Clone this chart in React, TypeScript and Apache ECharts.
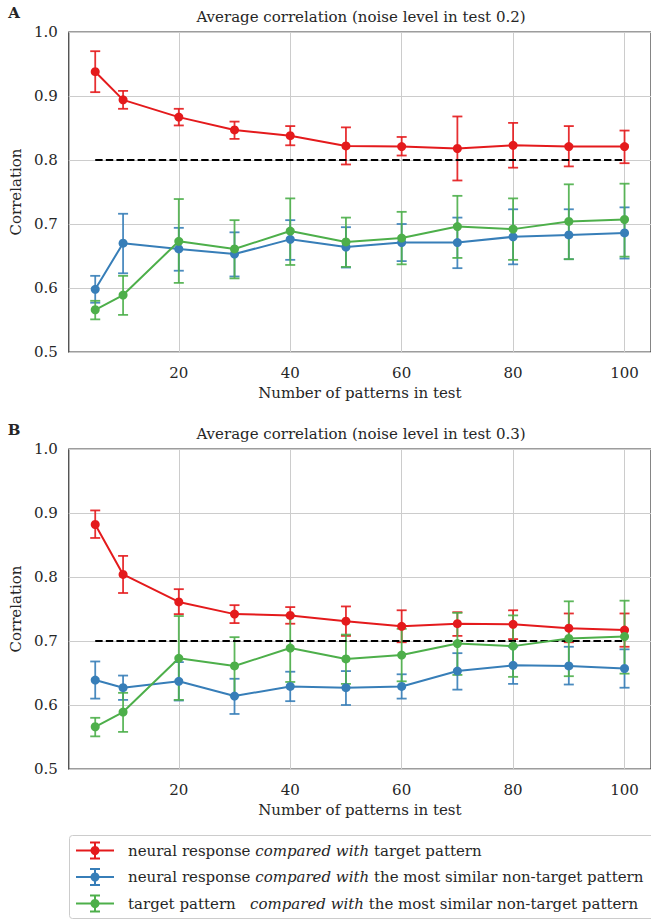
import React, { useEffect, useRef } from "react";
import * as echarts from "echarts";

const PATTERNS = [5, 10, 20, 30, 40, 50, 60, 70, 80, 90, 100];
const X_TICKS = [20, 40, 60, 80, 100];

// Panel A (noise level 0.2)
const A_TARGET = [0.938, 0.894, 0.867, 0.847, 0.838, 0.822, 0.821, 0.818, 0.823, 0.821, 0.821];
const A_TARGET_LO = [0.906, 0.88, 0.854, 0.833, 0.823, 0.793, 0.807, 0.768, 0.788, 0.79, 0.795];
const A_TARGET_HI = [0.97, 0.908, 0.88, 0.86, 0.853, 0.851, 0.836, 0.868, 0.858, 0.853, 0.846];
const A_NONTARGET = [0.598, 0.67, 0.661, 0.653, 0.676, 0.664, 0.671, 0.671, 0.68, 0.683, 0.686];
const A_NONTARGET_LO = [0.577, 0.623, 0.627, 0.618, 0.644, 0.632, 0.642, 0.631, 0.637, 0.645, 0.646];
const A_NONTARGET_HI = [0.619, 0.716, 0.694, 0.687, 0.706, 0.695, 0.7, 0.71, 0.723, 0.723, 0.726];
const A_THRESHOLD = 0.8;

// Panel B (noise level 0.3)
const B_TARGET = [0.882, 0.804, 0.761, 0.742, 0.74, 0.731, 0.723, 0.727, 0.726, 0.72, 0.717];
const B_TARGET_LO = [0.861, 0.775, 0.742, 0.728, 0.727, 0.708, 0.698, 0.708, 0.703, 0.698, 0.691];
const B_TARGET_HI = [0.904, 0.833, 0.781, 0.756, 0.753, 0.754, 0.748, 0.745, 0.748, 0.743, 0.743];
const B_NONTARGET = [0.639, 0.627, 0.637, 0.614, 0.629, 0.627, 0.629, 0.653, 0.662, 0.661, 0.657];
const B_NONTARGET_LO = [0.61, 0.608, 0.607, 0.586, 0.606, 0.6, 0.61, 0.624, 0.633, 0.632, 0.627];
const B_NONTARGET_HI = [0.668, 0.646, 0.667, 0.641, 0.652, 0.653, 0.648, 0.681, 0.691, 0.691, 0.687];
const B_THRESHOLD = 0.7;

// Target pattern vs most similar non-target (same in both panels)
const PATTERN_VS = [0.566, 0.589, 0.673, 0.661, 0.689, 0.672, 0.678, 0.696, 0.692, 0.704, 0.707];
const PATTERN_VS_LO = [0.551, 0.558, 0.608, 0.615, 0.636, 0.633, 0.637, 0.647, 0.644, 0.645, 0.649];
const PATTERN_VS_HI = [0.58, 0.619, 0.739, 0.706, 0.74, 0.71, 0.719, 0.744, 0.74, 0.762, 0.763];

const TITLES = [
  "Average correlation (noise level in test 0.2)",
  "Average correlation (noise level in test 0.3)",
];
const PANEL_LABELS = ["A", "B"];
const LEGEND_ROWS = [
  ["neural response ", "compared with", " target pattern"],
  ["neural response ", "compared with", " the most similar non-target pattern"],
  ["target pattern \u00a0\u00a0", "compared with", " the most similar non-target pattern"],
];

const RED = "#e41a1c";
const BLUE = "#377eb8";
const GREEN = "#4daf4a";
const COLORS = [RED, BLUE, GREEN];
const FONT = "'DejaVu Serif', serif";
const FS = 15;
const TEXT = "#262626";

const GRID_TOPS = [32, 449];
const GRID_LEFT = 66;
const GRID_W = 589;
const GRID_H = 320;

function pts(v: number[]) {
  return PATTERNS.map((x, i) => [x, v[i]]);
}
function bars(lo: number[], hi: number[]) {
  return PATTERNS.map((x, i) => [x, lo[i], hi[i]]);
}

function errSeries(idx: number, color: string, lo: number[], hi: number[]) {
  return {
    type: "custom",
    xAxisIndex: idx,
    yAxisIndex: idx,
    data: bars(lo, hi),
    encode: { x: 0, y: [1, 2] },
    silent: true,
    renderItem: (_p: any, api: any) => {
      const x = api.value(0);
      const a = api.coord([x, api.value(1)]);
      const b = api.coord([x, api.value(2)]);
      const w = 5;
      const style = { stroke: color, lineWidth: 1.8, opacity: 0.9 };
      return {
        type: "group",
        children: [
          { type: "line", shape: { x1: a[0], y1: a[1], x2: b[0], y2: b[1] }, style },
          { type: "line", shape: { x1: a[0] - w, y1: a[1], x2: a[0] + w, y2: a[1] }, style },
          { type: "line", shape: { x1: b[0] - w, y1: b[1], x2: b[0] + w, y2: b[1] }, style },
        ],
      };
    },
  };
}

function lineSeries(idx: number, color: string, v: number[]) {
  return {
    type: "line",
    xAxisIndex: idx,
    yAxisIndex: idx,
    data: pts(v),
    symbol: "circle",
    symbolSize: 9,
    lineStyle: { color, width: 2 },
    itemStyle: { color },
    silent: true,
  };
}

function thresholdSeries(idx: number, t: number) {
  return {
    type: "line",
    xAxisIndex: idx,
    yAxisIndex: idx,
    data: [
      [PATTERNS[0], t],
      [PATTERNS[PATTERNS.length - 1], t],
    ],
    symbol: "none",
    lineStyle: { color: "#000", width: 2, type: [7.4, 3.2] },
    silent: true,
  };
}

export default function App() {
  const ref = useRef<HTMLDivElement>(null);
  useEffect(() => {
    if (!ref.current) return;
    const chart = echarts.init(ref.current, undefined, { renderer: "svg" });

    const panels = [
      { t: A_TARGET, tl: A_TARGET_LO, th: A_TARGET_HI, n: A_NONTARGET, nl: A_NONTARGET_LO, nh: A_NONTARGET_HI, thr: A_THRESHOLD },
      { t: B_TARGET, tl: B_TARGET_LO, th: B_TARGET_HI, n: B_NONTARGET, nl: B_NONTARGET_LO, nh: B_NONTARGET_HI, thr: B_THRESHOLD },
    ];

    const series: any[] = [];
    panels.forEach((p, i) => {
      series.push(errSeries(i, RED, p.tl, p.th));
      series.push(lineSeries(i, RED, p.t));
      series.push(thresholdSeries(i, p.thr));
      series.push(errSeries(i, BLUE, p.nl, p.nh));
      series.push(lineSeries(i, BLUE, p.n));
      series.push(errSeries(i, GREEN, PATTERN_VS_LO, PATTERN_VS_HI));
      series.push(lineSeries(i, GREEN, PATTERN_VS));
    });

    const graphic: any[] = [];
    GRID_TOPS.forEach((top, i) => {
      graphic.push({
        type: "text",
        x: 14,
        y: top - 19,
        style: { text: PANEL_LABELS[i], fontFamily: FONT, fontSize: 15, fontWeight: "bold", fill: TEXT, textAlign: "center", textVerticalAlign: "middle" },
      });
      graphic.push({
        type: "text",
        x: 361,
        y: top - 15,
        style: { text: TITLES[i], fontFamily: FONT, fontSize: FS, fill: TEXT, textAlign: "center", textVerticalAlign: "middle" },
      });
    });

    // Legend
    graphic.push({
      type: "rect",
      shape: { x: 69.5, y: 835.5, width: 590, height: 83, r: 3 },
      style: { fill: "#fff", stroke: "#cccccc", lineWidth: 1 },
    });
    const rowY = [850.5, 877, 903.5];
    LEGEND_ROWS.forEach((row, i) => {
      const c = COLORS[i];
      const y = rowY[i];
      const st = { stroke: c, lineWidth: 2 };
      graphic.push({ type: "line", shape: { x1: 76, y1: y, x2: 114, y2: y }, style: st });
      graphic.push({ type: "line", shape: { x1: 95, y1: y - 8, x2: 95, y2: y + 8 }, style: st });
      graphic.push({ type: "line", shape: { x1: 90, y1: y - 8, x2: 100, y2: y - 8 }, style: st });
      graphic.push({ type: "line", shape: { x1: 90, y1: y + 8, x2: 100, y2: y + 8 }, style: st });
      graphic.push({ type: "circle", shape: { cx: 95, cy: y, r: 4.5 }, style: { fill: c } });
      graphic.push({
        type: "text",
        x: 128,
        y,
        style: {
          text: `{n|${row[0]}}{i|${row[1]}}{n|${row[2]}}`,
          textVerticalAlign: "middle",
          rich: {
            n: { fontFamily: FONT, fontSize: FS, fill: TEXT, color: TEXT },
            i: { fontFamily: FONT, fontSize: FS, fontStyle: "italic", fill: TEXT, color: TEXT },
          },
        },
      });
    });

    const option: any = {
      animation: false,
      backgroundColor: "#fff",
      textStyle: { fontFamily: FONT },
      grid: GRID_TOPS.map((top) => ({
        left: GRID_LEFT,
        top,
        width: GRID_W,
        height: GRID_H,
        show: true,
        borderColor: "#3d3d3d",
        borderWidth: 1.25,
        backgroundColor: "transparent",
      })),
      xAxis: GRID_TOPS.map((_t, i) => ({
        type: "value",
        gridIndex: i,
        min: 0.25,
        max: 104.75,
        axisLine: { show: false },
        axisTick: { show: false, customValues: X_TICKS },
        axisLabel: { customValues: X_TICKS, fontSize: FS, color: TEXT, fontFamily: FONT, margin: 13 },
        splitLine: { show: true, lineStyle: { color: "#cccccc", width: 1 } },
        name: "Number of patterns in test",
        nameLocation: "middle",
        nameGap: 33,
        nameTextStyle: { fontSize: FS, color: TEXT, fontFamily: FONT },
      })),
      yAxis: GRID_TOPS.map((_t, i) => ({
        type: "value",
        gridIndex: i,
        min: 0.5,
        max: 1.0,
        interval: 0.1,
        axisLine: { show: false },
        axisTick: { show: false },
        axisLabel: { formatter: (v: number) => v.toFixed(1), fontSize: FS, color: TEXT, fontFamily: FONT, margin: 11 },
        splitLine: { show: true, lineStyle: { color: "#cccccc", width: 1 } },
        name: "Correlation",
        nameLocation: "middle",
        nameGap: 39,
        nameRotate: 90,
        nameTextStyle: { fontSize: FS, color: TEXT, fontFamily: FONT },
      })),
      series,
      graphic,
    };
    chart.setOption(option);
    return () => chart.dispose();
  }, []);
  return <div ref={ref} style={{ position: "absolute", left: 0, top: 0, width: 651, height: 923 }} />;
}
